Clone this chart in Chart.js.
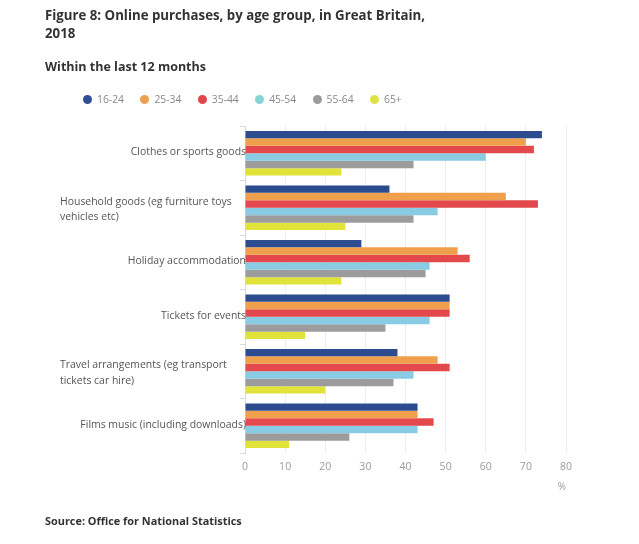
<!DOCTYPE html>
<html>
<head>
<meta charset="utf-8">
<script src="https://cdn.jsdelivr.net/npm/chart.js@4/dist/chart.umd.min.js"></script>
<style>
  html, body { margin: 0; padding: 0; background: #fff; }
  body { width: 639px; height: 544px; position: relative; overflow: hidden; font-family: "Open Sans", sans-serif; }
  #wrap { position: absolute; left: 0; top: 0; width: 639px; height: 544px; }
  .title { position: absolute; left: 45px; top: 6px; font-weight: bold; font-size: 13.25px; color: #333; line-height: 18px; }
  .sub { position: absolute; left: 45px; top: 58px; font-weight: bold; font-size: 12.5px; color: #333; line-height: 18px; }
  .source { position: absolute; left: 45px; top: 512px; font-weight: bold; font-size: 10.9px; color: #333; line-height: 18px; }
  #legend { position: absolute; left: 83px; top: 92px; height: 16px; }
  .li { position: absolute; top: 0; white-space: nowrap; font-size: 10.35px; color: #888; line-height: 14px; }
  .dot { display: inline-block; width: 9px; height: 9px; border-radius: 50%; vertical-align: -1px; margin-right: 5px; }
</style>
</head>
<body>
<div id="wrap"><canvas id="c" width="639" height="544"></canvas></div>
<div class="title">Figure 8: Online purchases, by age group, in Great Britain,<br>2018</div>
<div class="sub">Within the last 12 months</div>
<div id="legend"></div>
<div class="source">Source: Office for National Statistics</div>
<script>
const categories = [
  "Clothes or sports goods",
  ["Household goods (eg furniture toys", "vehicles etc)"],
  "Holiday accommodation",
  "Tickets for events",
  ["Travel arrangements (eg transport", "tickets car hire)"],
  "Films music (including downloads)"
];
const seriesNames = ["16-24", "25-34", "35-44", "45-54", "55-64", "65+"];
const age16_24 = [74, 36, 29, 51, 38, 43];
const age25_34 = [70, 65, 53, 51, 48, 43];
const age35_44 = [72, 73, 56, 51, 51, 47];
const age45_54 = [60, 48, 46, 46, 42, 43];
const age55_64 = [42, 42, 45, 35, 37, 26];
const age65plus = [24, 25, 24, 15, 20, 11];
const xTicks = [0, 10, 20, 30, 40, 50, 60, 70, 80];

const barColors = ["#2d4c8f", "#f0a04d", "#e2484c", "#88cbe2", "#9c9c9c", "#e1e33a"];
const dotColors = ["#2f4f95", "#eaa24f", "#e0474c", "#86d3d6", "#9a9a9a", "#dde245"];
const seriesData = [age16_24, age25_34, age35_44, age45_54, age55_64, age65plus];

// legend
const lg = document.getElementById('legend');
seriesNames.forEach((n, i) => {
  const d = document.createElement('div');
  d.className = 'li';
  d.style.left = (i * 57.4) + 'px';
  d.innerHTML = '<span class="dot" style="background:' + dotColors[i] + '"></span>' + n;
  lg.appendChild(d);
});

const yLabelPlugin = {
  id: 'yLabels',
  afterDraw(chart) {
    const s = chart.scales.y;
    const ctx = chart.ctx;
    ctx.save();
    ctx.font = '10.45px "Open Sans"';
    ctx.fillStyle = '#555';
    ctx.textBaseline = 'middle';
    categories.forEach((lab, i) => {
      const y = s.getPixelForTick(i);
      if (Array.isArray(lab)) {
        ctx.textAlign = 'left';
        const lh = 15.5;
        const y0 = y + 2 - (lab.length - 1) * lh / 2;
        lab.forEach((l, k) => ctx.fillText(l, 60, y0 + k * lh));
      } else {
        ctx.textAlign = 'right';
        ctx.fillText(lab, s.right + 1, y - 1);
      }
    });
    ctx.restore();
  }
};

new Chart(document.getElementById('c'), {
  type: 'bar',
  data: {
    labels: categories,
    datasets: seriesNames.map((n, i) => ({
      label: n,
      data: seriesData[i],
      backgroundColor: barColors[i],
      borderWidth: 0,
      categoryPercentage: 0.82,
      barPercentage: 1.0
    }))
  },
  options: {
    indexAxis: 'y',
    responsive: false,
    animation: false,
    layout: { padding: { top: 126, right: 73, bottom: 51, left: 0 } },
    plugins: { legend: { display: false }, tooltip: { enabled: false } },
    scales: {
      x: {
        min: 0, max: 80,
        afterBuildTicks(scale) { scale.ticks = xTicks.map(v => ({ value: v })); },
        afterFit(scale) { scale.height = 40; },
        grid: { color: '#eeeeee', drawTicks: false },
        border: { display: false },
        ticks: { color: '#9a9a9a', font: { family: 'Open Sans', size: 10.5 }, padding: 8 },
        title: { display: true, text: '%', align: 'end', color: '#9a9a9a', font: { family: 'Open Sans', size: 10 }, padding: { top: 1, bottom: 0 } }
      },
      y: {
        afterFit(scale) { scale.width = 245; },
        grid: { drawOnChartArea: false, drawTicks: true, tickLength: 5, color: '#d6dbe2', offset: true },
        border: { display: true, color: '#d6dbe2' },
        ticks: { display: false }
      }
    }
  },
  plugins: [yLabelPlugin]
});
</script>
</body>
</html>
